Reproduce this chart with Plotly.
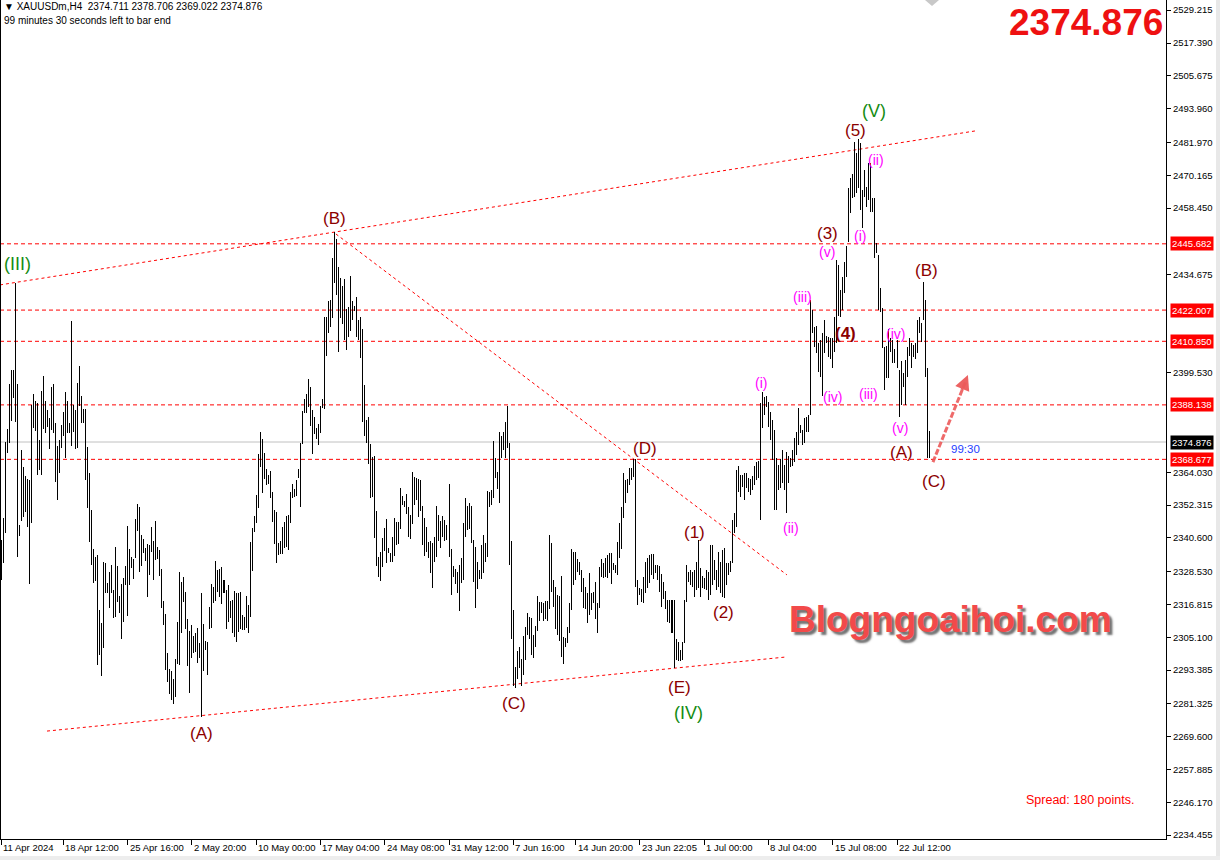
import plotly.graph_objects as go

# ---------------- data (XAUUSDm, H4) ----------------
bar_high = [
    2339.9, 2347.7, 2374.9, 2379.5, 2395.6, 2400.6, 2400.6, 2431.7, 2395.6, 2345.2,
    2372.0, 2365.9, 2362.7, 2361.6, 2361.3, 2388.1, 2392.0, 2389.5, 2388.8, 2375.6,
    2393.1, 2398.5, 2389.5, 2386.3, 2383.4, 2394.5, 2395.6, 2381.7, 2373.4, 2375.6,
    2380.9, 2385.6, 2392.7, 2389.5, 2381.7, 2418.1, 2388.1, 2386.3, 2395.9, 2402.0,
    2391.3, 2386.7, 2386.7, 2373.1, 2363.8, 2350.6, 2336.6, 2333.8, 2334.5, 2314.8,
    2310.2, 2332.0, 2331.6, 2324.5, 2328.4, 2330.9, 2322.0, 2337.4, 2330.6, 2319.9,
    2324.1, 2326.3, 2330.6, 2344.9, 2336.6, 2333.8, 2333.1, 2347.4, 2352.7, 2351.6,
    2341.6, 2340.2, 2337.0, 2338.4, 2338.1, 2344.5, 2339.5, 2346.6, 2337.5, 2336.3,
    2329.5, 2318.2, 2313.4, 2299.5, 2293.8, 2292.9, 2290.2, 2297.3, 2310.6, 2328.4,
    2324.8, 2326.6, 2321.3, 2311.6, 2307.3, 2309.5, 2305.6, 2306.8, 2308.6, 2303.1,
    2320.9, 2309.8, 2303.8, 2303.4, 2315.9, 2324.3, 2323.1, 2332.4, 2329.1, 2329.5,
    2330.3, 2325.6, 2322.0, 2323.9, 2318.2, 2318.4, 2321.6, 2320.9, 2320.9, 2321.3,
    2313.1, 2312.3, 2319.9, 2316.6, 2339.1, 2344.1, 2348.4, 2355.9, 2370.6, 2378.4,
    2375.9, 2370.9, 2365.2, 2363.1, 2364.5, 2357.0, 2350.6, 2349.9, 2338.8, 2339.5,
    2344.5, 2346.3, 2348.4, 2348.8, 2357.0, 2359.9, 2358.1, 2361.3, 2365.2, 2374.5,
    2385.9, 2390.2, 2392.0, 2397.4, 2394.5, 2386.3, 2383.8, 2379.9, 2381.3, 2387.7,
    2390.2, 2419.5, 2419.5, 2425.3, 2425.6, 2440.6, 2449.9, 2447.4, 2437.4, 2433.5,
    2430.6, 2433.1, 2422.4, 2423.1, 2434.2, 2425.3, 2423.5, 2426.7, 2418.5, 2419.5,
    2415.2, 2395.2, 2382.7, 2383.8, 2374.2, 2369.5, 2369.9, 2350.2, 2333.8, 2335.6,
    2340.6, 2344.1, 2347.4, 2337.0, 2335.2, 2340.9, 2347.7, 2346.3, 2346.3, 2358.4,
    2355.6, 2353.8, 2356.3, 2351.6, 2348.8, 2364.1, 2362.4, 2362.0, 2361.6, 2361.3,
    2352.0, 2347.7, 2344.5, 2339.1, 2339.5, 2338.8, 2340.9, 2352.0, 2348.8, 2346.6,
    2348.4, 2347.0, 2345.2, 2359.9, 2336.6, 2330.6, 2329.5, 2328.4, 2330.9, 2333.4,
    2345.9, 2354.9, 2352.0, 2353.1, 2352.0, 2339.9, 2337.4, 2332.0, 2329.1, 2338.1,
    2341.6, 2338.8, 2357.4, 2357.0, 2357.7, 2375.2, 2369.2, 2364.1, 2378.4, 2377.0,
    2378.4, 2382.0, 2387.7, 2374.5, 2339.5, 2314.8, 2294.5, 2300.2, 2301.6, 2297.3,
    2305.6, 2308.8, 2313.8, 2312.3, 2312.0, 2305.9, 2309.1, 2319.9, 2317.7, 2317.7,
    2317.3, 2318.1, 2318.1, 2341.6, 2338.8, 2325.6, 2323.1, 2320.2, 2319.9, 2327.0,
    2305.2, 2304.8, 2308.8, 2317.3, 2336.6, 2335.6, 2335.6, 2333.1, 2332.0, 2329.1,
    2326.3, 2323.1, 2320.9, 2328.1, 2320.9, 2321.3, 2324.8, 2317.3, 2330.2, 2333.1,
    2331.6, 2333.4, 2334.5, 2335.2, 2335.2, 2331.6, 2330.9, 2339.1, 2345.9, 2351.6,
    2363.8, 2361.3, 2361.6, 2365.6, 2365.6, 2368.8, 2368.8, 2325.6, 2322.7, 2322.4,
    2326.6, 2332.0, 2333.4, 2334.5, 2334.9, 2334.9, 2330.9, 2330.9, 2330.6, 2327.7,
    2324.8, 2321.6, 2318.4, 2318.4, 2318.4, 2318.4, 2304.5, 2303.4, 2300.6, 2303.4,
    2318.4, 2330.9, 2328.4, 2329.1, 2328.4, 2329.1, 2332.0, 2339.9, 2329.8, 2327.0,
    2326.3, 2329.1, 2328.4, 2338.1, 2338.1, 2332.7, 2329.1, 2335.6, 2332.0, 2336.3,
    2337.0, 2331.6, 2331.6, 2332.4, 2347.0, 2349.5, 2364.9, 2366.3, 2363.1, 2363.1,
    2363.8, 2363.8, 2362.0, 2361.6, 2362.7, 2366.3, 2367.7, 2368.1, 2388.8, 2392.7,
    2391.0, 2391.3, 2389.2, 2385.6, 2382.7, 2379.2, 2369.2, 2366.7, 2368.8, 2372.0,
    2366.7, 2371.3, 2369.9, 2369.2, 2372.0, 2376.3, 2378.4, 2387.0, 2380.9, 2379.2,
    2383.4, 2383.8, 2384.5, 2425.6, 2422.0, 2416.0, 2416.3, 2410.3, 2411.3, 2413.8,
    2418.5, 2412.8, 2412.4, 2412.0, 2412.0, 2419.5, 2439.9, 2438.1, 2429.2, 2433.8,
    2439.2, 2444.9, 2465.6, 2469.2, 2470.6, 2482.1, 2478.1, 2483.0, 2481.7, 2464.9,
    2472.1, 2466.0, 2474.6, 2474.6, 2462.1, 2462.1, 2446.0, 2441.7, 2429.9, 2422.8,
    2408.8, 2409.2, 2415.2, 2412.0, 2411.3, 2408.1, 2411.3, 2400.6, 2403.8, 2399.5,
    2404.2, 2408.8, 2412.0, 2410.3, 2409.5, 2410.3, 2418.5, 2419.5, 2417.4, 2432.0,
    2425.6, 2401.3, 2378.706,
]

bar_low = [
    2325.6, 2331.6, 2342.4, 2370.9, 2374.5, 2382.4, 2390.6, 2382.0, 2333.8, 2341.3,
    2346.6, 2348.1, 2349.9, 2344.5, 2324.1, 2345.9, 2379.9, 2378.8, 2363.1, 2364.9,
    2363.1, 2379.5, 2378.1, 2380.2, 2372.4, 2379.2, 2378.1, 2360.6, 2354.1, 2363.8,
    2372.7, 2377.0, 2369.2, 2378.1, 2378.1, 2373.4, 2378.4, 2372.4, 2372.7, 2387.7,
    2381.7, 2381.7, 2361.3, 2351.3, 2339.1, 2330.9, 2324.5, 2325.2, 2295.2, 2298.8,
    2291.3, 2301.3, 2320.9, 2320.9, 2315.6, 2320.9, 2312.0, 2312.3, 2317.7, 2313.8,
    2304.5, 2310.4, 2323.8, 2312.7, 2323.8, 2329.8, 2325.9, 2333.4, 2343.1, 2328.4,
    2330.6, 2335.2, 2332.4, 2319.5, 2327.3, 2335.7, 2325.6, 2332.7, 2333.1, 2327.0,
    2315.6, 2309.5, 2293.4, 2289.1, 2285.0, 2282.8, 2281.4, 2283.8, 2295.5, 2295.2,
    2306.8, 2317.7, 2308.2, 2294.8, 2285.2, 2297.7, 2299.5, 2299.8, 2295.9, 2297.7,
    2276.7, 2292.9, 2300.7, 2291.6, 2308.2, 2308.6, 2317.3, 2317.9, 2321.3, 2319.5,
    2317.0, 2320.9, 2308.1, 2310.4, 2312.0, 2306.6, 2305.2, 2303.4, 2307.0, 2308.1,
    2307.7, 2307.7, 2308.4, 2306.6, 2312.3, 2328.8, 2342.7, 2345.9, 2351.3, 2365.9,
    2356.6, 2361.6, 2359.5, 2359.9, 2354.9, 2346.3, 2338.4, 2331.6, 2334.5, 2334.9,
    2334.9, 2337.0, 2337.4, 2336.3, 2345.9, 2354.9, 2355.2, 2355.6, 2362.0, 2351.6,
    2374.2, 2385.2, 2385.2, 2387.4, 2380.6, 2370.6, 2377.7, 2375.9, 2373.8, 2378.1,
    2387.0, 2386.7, 2405.6, 2413.8, 2416.0, 2419.2, 2431.7, 2427.4, 2407.0, 2419.2,
    2417.0, 2411.3, 2407.7, 2412.4, 2414.5, 2418.5, 2421.7, 2412.4, 2411.3, 2404.9,
    2382.0, 2377.0, 2374.5, 2367.0, 2354.9, 2355.2, 2340.6, 2330.6, 2326.6, 2325.2,
    2330.2, 2335.9, 2331.6, 2335.2, 2332.0, 2332.0, 2334.2, 2338.1, 2338.4, 2343.8,
    2352.4, 2351.6, 2349.2, 2340.9, 2340.2, 2345.6, 2352.4, 2354.1, 2348.1, 2350.2,
    2338.1, 2334.2, 2335.6, 2333.4, 2328.1, 2322.7, 2332.0, 2333.8, 2339.5, 2337.0,
    2340.9, 2339.5, 2339.9, 2333.8, 2320.2, 2326.6, 2324.1, 2320.9, 2314.5, 2324.5,
    2325.6, 2340.9, 2343.4, 2343.8, 2338.8, 2324.8, 2315.6, 2322.4, 2325.9, 2325.9,
    2328.1, 2332.0, 2333.8, 2351.6, 2352.4, 2354.9, 2362.0, 2358.1, 2353.1, 2369.2,
    2372.0, 2369.2, 2372.7, 2330.9, 2304.5, 2287.7, 2287.0, 2290.2, 2294.1, 2287.7,
    2291.6, 2297.0, 2305.9, 2304.5, 2298.8, 2297.7, 2301.6, 2307.3, 2310.9, 2313.8,
    2310.9, 2311.6, 2310.9, 2315.2, 2321.3, 2315.9, 2308.1, 2305.9, 2303.8, 2298.1,
    2295.5, 2301.6, 2303.1, 2306.6, 2314.8, 2323.8, 2325.6, 2328.4, 2327.3, 2321.3,
    2315.6, 2315.2, 2310.2, 2313.1, 2314.8, 2317.3, 2311.6, 2306.6, 2315.6, 2326.6,
    2326.3, 2326.6, 2326.3, 2328.1, 2324.1, 2329.1, 2328.1, 2327.3, 2333.4, 2336.6,
    2347.7, 2353.1, 2356.6, 2359.5, 2361.3, 2362.4, 2323.1, 2316.6, 2320.2, 2317.7,
    2317.3, 2320.9, 2322.7, 2324.5, 2327.3, 2325.9, 2328.1, 2325.6, 2321.3, 2315.9,
    2318.8, 2315.2, 2310.6, 2310.2, 2306.6, 2294.1, 2297.0, 2296.6, 2296.6, 2297.0,
    2303.1, 2317.7, 2324.8, 2323.8, 2323.1, 2319.5, 2322.0, 2322.7, 2319.5, 2322.7,
    2322.4, 2322.0, 2318.4, 2320.2, 2323.8, 2325.6, 2322.0, 2323.1, 2320.9, 2319.5,
    2319.1, 2323.8, 2327.3, 2328.4, 2331.6, 2342.4, 2344.5, 2357.0, 2355.2, 2358.8,
    2354.1, 2358.4, 2357.0, 2355.9, 2357.7, 2359.5, 2361.3, 2362.0, 2347.0, 2379.9,
    2384.5, 2387.4, 2380.2, 2375.6, 2368.4, 2350.6, 2350.6, 2357.7, 2358.4, 2360.2,
    2357.7, 2349.5, 2360.2, 2365.9, 2366.3, 2367.7, 2370.2, 2373.8, 2378.1, 2373.8,
    2374.5, 2378.4, 2378.4, 2384.5, 2413.8, 2408.8, 2406.7, 2399.9, 2398.1, 2391.3,
    2406.7, 2410.3, 2405.2, 2404.5, 2401.3, 2407.0, 2410.3, 2419.9, 2419.5, 2422.0,
    2428.1, 2433.8, 2446.3, 2456.7, 2462.1, 2462.4, 2463.8, 2465.6, 2457.8, 2451.3,
    2462.4, 2458.8, 2461.3, 2457.1, 2457.1, 2440.6, 2442.4, 2422.0, 2421.3, 2408.5,
    2393.5, 2397.7, 2397.7, 2407.0, 2403.1, 2403.1, 2401.3, 2383.8, 2388.1, 2394.5,
    2388.1, 2398.1, 2405.6, 2401.3, 2405.2, 2404.5, 2406.7, 2413.8, 2410.6, 2418.5,
    2398.1, 2369.2, 2369.022,
]

x_tick_pos = [0, 31, 63, 95, 127, 159, 191, 223, 255, 286, 318, 350, 382, 414, 446]
x_tick_labels = ["11 Apr 2024", "18 Apr 12:00", "25 Apr 16:00", "2 May 20:00",
                 "10 May 00:00", "17 May 04:00", "24 May 08:00", "31 May 12:00",
                 "7 Jun 16:00", "14 Jun 20:00", "23 Jun 22:05", "1 Jul 00:00",
                 "8 Jul 04:00", "15 Jul 08:00", "22 Jul 12:00"]

y_tick_vals = [2529.215, 2517.390, 2505.675, 2493.960, 2481.970, 2470.165, 2458.450,
               2434.675, 2399.530, 2364.030, 2352.315, 2340.600, 2328.530, 2316.815,
               2305.100, 2293.385, 2281.325, 2269.600, 2257.885, 2246.170, 2234.455]

red_levels = [2445.682, 2422.007, 2410.850, 2388.138, 2368.677]
bid_price = 2374.876
bar_info = "\u25bc XAUUSDm,H4 \u00a02374.711 2378.706 2369.022 2374.876"

# trend lines: (bar index, price) -> (bar index, price)
trend_lines = [
    ((-0.5, 2431.0), (484.8, 2486.0)),
    ((22.9, 2271.6), (391.2, 2298.1)),
    ((166.7, 2449.2), (391.2, 2327.4)),
]

DRED = "#8B0000"
GREEN = "#148C14"
MAG = "#FF00FF"
wave_labels = [
    ("(III)", 8.0, 2438.5, GREEN, 18),
    ("(A)", 99.6, 2270.9, DRED, 17),
    ("(B)", 165.8, 2454.9, DRED, 17),
    ("(C)", 255.4, 2281.3, DRED, 17),
    ("(D)", 320.6, 2372.4, DRED, 17),
    ("(E)", 337.5, 2287.0, DRED, 17),
    ("(IV)", 342.0, 2278.1, GREEN, 18),
    ("(1)", 345.4, 2342.4, DRED, 17),
    ("(2)", 359.4, 2313.8, DRED, 17),
    ("(3)", 411.6, 2449.2, DRED, 17),
    ("<b>(4)</b>", 420.6, 2413.8, DRED, 17),
    ("(5)", 425.1, 2486.0, DRED, 17),
    ("(V)", 434.5, 2493.1, GREEN, 18),
    ("(B)", 460.9, 2436.0, DRED, 17),
    ("(A)", 448.0, 2371.3, DRED, 17),
    ("(C)", 464.4, 2360.6, DRED, 17),
    ("(i)", 378.3, 2396.0, MAG, 14),
    ("(ii)", 393.2, 2344.2, MAG, 14),
    ("(iii)", 399.2, 2426.7, MAG, 14),
    ("(iv)", 414.1, 2391.0, MAG, 14),
    ("(v)", 411.1, 2442.7, MAG, 14),
    ("(i)", 427.6, 2448.5, MAG, 14),
    ("(ii)", 435.5, 2475.6, MAG, 14),
    ("(iii)", 432.0, 2392.0, MAG, 14),
    ("(iv)", 445.5, 2413.5, MAG, 14),
    ("(v)", 447.5, 2379.9, MAG, 14),
]

# ---------------- figure ----------------
FONT = "Liberation Sans, Arial, sans-serif"
W, H = 1220, 860
ML, MR, MT, MB = 0, 54, 0, 21
PW, PH = W - ML - MR, H - MT - MB

def px(xp):
    return xp / PW

def py(yp):
    return 1 - yp / PH

idx = list(range(len(bar_high)))
fig = go.Figure()
fig.add_trace(go.Bar(
    x=idx,
    y=[h - l for h, l in zip(bar_high, bar_low)],
    base=bar_low,
    width=0.5,
    marker=dict(color="rgba(0,0,0,0.995)", line=dict(width=0)),
    hoverinfo="skip",
    showlegend=False,
))

shapes = []
for lv in red_levels:
    shapes.append(dict(type="line", xref="paper", yref="y", x0=0, x1=1, y0=lv, y1=lv,
                       line=dict(color="#FF0000", width=1, dash="4px,3px"), layer="below"))
shapes.append(dict(type="line", xref="paper", yref="y", x0=0, x1=1, y0=bid_price, y1=bid_price,
                   line=dict(color="#C0C0C0", width=1), layer="below"))
for (x0, y0), (x1, y1) in trend_lines:
    shapes.append(dict(type="line", xref="x", yref="y", x0=x0, y0=y0, x1=x1, y1=y1,
                       line=dict(color="#FF0000", width=1, dash="3px,3px"), layer="below"))
# arrow body
shapes.append(dict(type="line", xref="x", yref="y", x0=463.9, y0=2367.7, x1=480.0, y1=2396.2,
                   line=dict(color="rgba(236,90,90,0.9)", width=3, dash="6px,2px")))
# frame
shapes.append(dict(type="line", xref="paper", yref="paper", x0=px(0.5), x1=px(0.5), y0=0, y1=1,
                   line=dict(color="black", width=1)))
shapes.append(dict(type="rect", xref="paper", yref="paper", x0=px(1216), x1=px(1221), y0=py(861), y1=1,
                   fillcolor="#E8E8E8", line=dict(width=0)))
shapes.append(dict(type="rect", xref="paper", yref="paper", x0=0, x1=px(1221), y0=py(861), y1=py(856),
                   fillcolor="#EDEDED", line=dict(width=0)))
# chart-shift marker at the top
shapes.append(dict(type="path", xref="paper", yref="paper",
                   path=f"M {px(925)} {py(0)} L {px(939)} {py(0)} L {px(932)} {py(6)} Z",
                   fillcolor="#C8C8C8", line=dict(width=0)))

ann = []
for lab, xi, yv, col, fs in wave_labels:
    ann.append(dict(x=xi, y=yv, xref="x", yref="y", text=lab, showarrow=False,
                    font=dict(family=FONT, size=fs, color=col), xanchor="center", yanchor="middle"))

for lv in red_levels:
    ann.append(dict(x=1, y=lv, xref="paper", yref="y", text=f"{lv:.3f}", showarrow=False,
                    xanchor="left", yanchor="middle", xshift=4, bgcolor="#FF0000", borderpad=1,
                    font=dict(family=FONT, size=9.5, color="white")))
ann.append(dict(x=1, y=bid_price, xref="paper", yref="y", text=f"{bid_price:.3f}", showarrow=False,
                xanchor="left", yanchor="middle", xshift=4, bgcolor="black", borderpad=1,
                font=dict(family=FONT, size=9.5, color="white")))

for xv, lab in zip(x_tick_pos, x_tick_labels):
    ann.append(dict(x=xv, y=0, xref="x", yref="paper", text=lab, showarrow=False,
                    xanchor="left", yanchor="top", xshift=0, yshift=-1,
                    font=dict(family=FONT, size=9.5, color="black")))

# arrow head
ann.append(dict(x=481.3, y=2398.8, xref="x", yref="y", ax=478.0, ay=2393.0, axref="x", ayref="y",
                text="", showarrow=True, arrowhead=2, arrowsize=1.0, arrowwidth=3,
                arrowcolor="rgba(236,90,90,0.95)"))

ann += [
    dict(x=px(2), y=py(7), xref="paper", yref="paper", text=bar_info, showarrow=False,
         xanchor="left", yanchor="middle", font=dict(family=FONT, size=10, color="black")),
    dict(x=px(2), y=py(21), xref="paper", yref="paper", text="99 minutes 30 seconds left to bar end",
         showarrow=False, xanchor="left", yanchor="middle", font=dict(family=FONT, size=10, color="black")),
    dict(x=px(1165), y=py(23), xref="paper", yref="paper", text=f"<b>{bid_price:.3f}</b>",
         showarrow=False, xanchor="right", yanchor="middle",
         font=dict(family=FONT, size=37, color="#EE1111")),
    dict(x=px(951), y=py(619), xref="paper", yref="paper", text="<b>Blogngoaihoi.com</b>",
         showarrow=False, xanchor="center", yanchor="middle",
         font=dict(family=FONT, size=37, color="#F24A4A",
                   shadow="3px 3px 2px rgba(90,90,90,0.85)")),
    dict(x=px(1080), y=py(800), xref="paper", yref="paper", text="Spread: 180 points.",
         showarrow=False, xanchor="center", yanchor="middle",
         font=dict(family=FONT, size=12.5, color="#FF0000")),
    dict(x=px(949), y=py(449), xref="paper", yref="paper", text="99:30",
         showarrow=False, xanchor="left", yanchor="middle",
         font=dict(family=FONT, size=11.5, color="#1E3CFF")),
]

fig.update_layout(
    width=W, height=H,
    margin=dict(l=ML, r=MR, t=MT, b=MB, pad=0),
    paper_bgcolor="white", plot_bgcolor="white",
    bargap=0, bargroupgap=0,
    showlegend=False,
    shapes=shapes,
    annotations=ann,
    xaxis=dict(range=[-0.498, 579.9], showgrid=False, zeroline=False, showline=True,
               linecolor="black", linewidth=1, ticks="outside", ticklen=5, tickcolor="black",
               tickvals=x_tick_pos, showticklabels=False, fixedrange=True),
    yaxis=dict(side="right", range=[2233.04, 2532.79], showgrid=False, zeroline=False,
               showline=True, linecolor="black", linewidth=1, ticks="outside", ticklen=4,
               tickcolor="black", tickvals=y_tick_vals, ticktext=[f"{v:.3f}" for v in y_tick_vals],
               tickfont=dict(family=FONT, size=9.5, color="black"), fixedrange=True),
)

fig.write_html("out.html", config={"displayModeBar": False},
               post_script="document.body.style.margin='0';")
